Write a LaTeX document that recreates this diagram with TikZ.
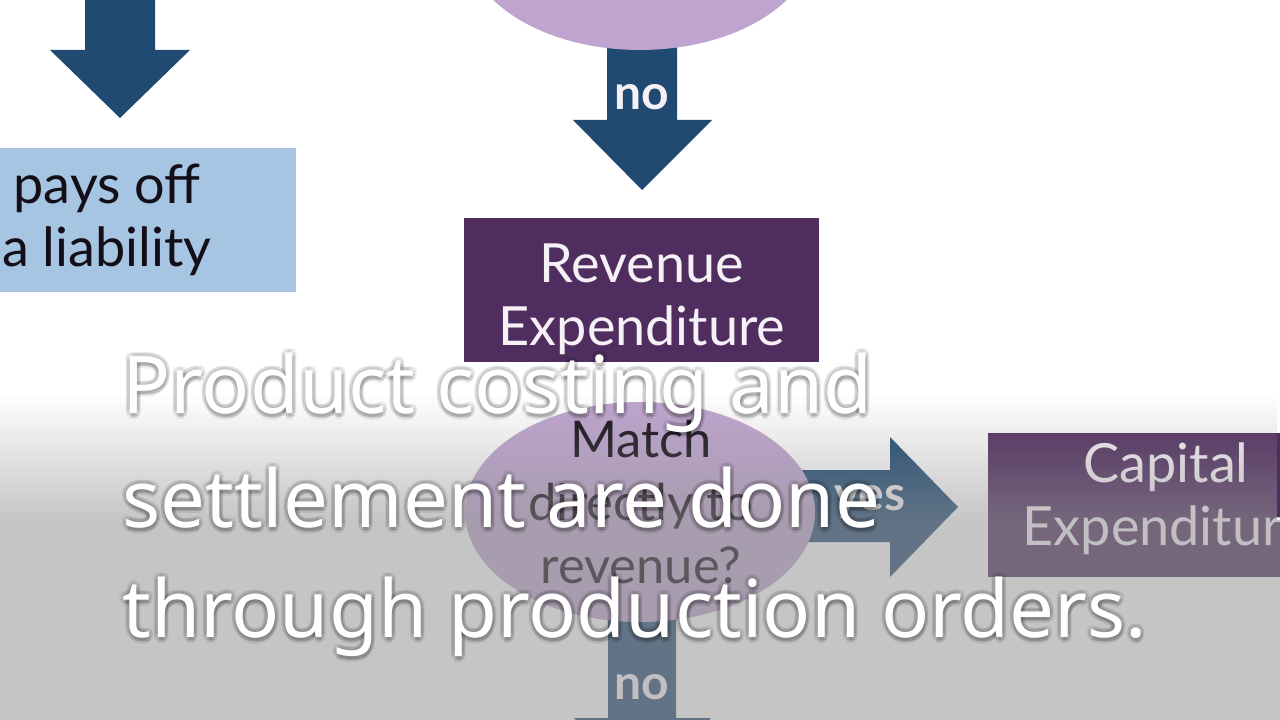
\documentclass[tikz,border=0pt]{standalone}
\usepackage{fontspec}
\setmainfont{Lato}
\newfontfamily\subfont{Noto Sans}
\usetikzlibrary{fadings,shapes.geometric}
\definecolor{arrowblue}{RGB}{33,74,114}
\definecolor{lightbox}{RGB}{166,197,226}
\definecolor{lilac}{RGB}{190,164,206}
\definecolor{darkpurple}{RGB}{79,45,94}
\definecolor{paletext}{RGB}{246,241,246}
\definecolor{darktext}{RGB}{20,14,24}
\definecolor{hazegrey}{RGB}{150,150,150}
\tikzfading[name=fadesouth, top color=transparent!100, bottom color=transparent!0]
\tikzset{
  arrowfill/.style={fill=arrowblue, draw=none},
  boxtext/.style={inner sep=0pt, align=center, font=\fontsize{40.5}{47}\selectfont},
  lightboxnode/.style={fill=lightbox, minimum width=282pt, minimum height=108pt, inner sep=0pt},
  purplebox/.style={fill=darkpurple, minimum width=266.25pt, minimum height=108pt, inner sep=0pt},
  decision/.style={ellipse, fill=lilac, minimum width=262.5pt, minimum height=165pt, inner sep=0pt},
  arrowlabel/.style={text=paletext, font=\bfseries\fontsize{36}{40}\selectfont, inner sep=0pt},
  subline/.style={anchor=base west, text=white, inner sep=0pt, font=\subfont\fontsize{59.8}{70}\selectfont},
  subshadow/.style={anchor=base west, text=black, text opacity=0.07, inner sep=0pt, font=\subfont\fontsize{59.8}{70}\selectfont}
}
\newcommand{\subtitleline}[3]{%
  \foreach \dx/\dy in {-4/0,4/0,0/-4,0/4,-3/-3,3/3,-3/3,3/-3,2/4,0/6} {
    \node[subshadow] at ([xshift=\dx*0.75pt,yshift=-\dy*0.75pt]#1) {#3};
  }
  \node[subline] (#2) at (#1) {#3};
}
\begin{document}
\begin{tikzpicture}[x=0.75pt,y=-0.75pt]
\useasboundingbox (0,0) rectangle (1280,720);
\fill[white] (0,0) rectangle (1280,720);
\clip (0,0) rectangle (1280,720);

% arrows (shapes)
\fill[arrowfill] (85,-5) -- (155,-5) -- (155,50) -- (190,50) -- (120,118) -- (50,50) -- (85,50) -- cycle;
\fill[arrowfill] (607,40) -- (677,40) -- (677,120) -- (712,120) -- (642,190) -- (573,120) -- (607,120) -- cycle;
\fill[arrowfill] (800,470) -- (890,470) -- (890,437) -- (958,507) -- (890,577) -- (890,542) -- (800,542) -- cycle;
\fill[arrowfill] (608,600) -- (676,600) -- (676,718) -- (711,718) -- (642,790) -- (574,718) -- (608,718) -- cycle;

% boxes and decisions
\node[lightboxnode] (liab) at (108,220) {};
\node[boxtext, text=darktext] (liabtext) at (107,220) {pays off\\a liability};
\node[decision] (topq) at (640,-60) {};
\node[purplebox] (rev) at (641.5,290) {};
\node[boxtext, text=paletext] (revtext) at (642,299) {Revenue\\Expenditure};
\node[decision] (match) at (640,512) {};
\node[boxtext, text=darktext, font=\fontsize{38}{47}\selectfont] (matchtext) at (641,502) {Match\\directly to\\revenue?};
\node[purplebox] (cap) at (1165.5,504.5) {};
\node[boxtext, text=paletext] (captext) at (1166,499) {Capital\\Expenditure};

\node[arrowlabel] (no1) at (642,97) {no};
\node[arrowlabel] (yes1) at (870,502) {yes};
\node[arrowlabel] (no2) at (642,687) {no};

% hazy overlay of the video frame
\fill[hazegrey, fill opacity=0.55, path fading=fadesouth] (0,395) rectangle (1280,520);
\fill[hazegrey, fill opacity=0.55] (0,519.5) rectangle (1280,720);

% subtitle
\coordinate (s1) at (122,413);
\coordinate (s2) at (122,527);
\coordinate (s3) at (122,637);
\subtitleline{s1}{sub1}{Product costing and}
\subtitleline{s2}{sub2}{settlement are done}
\subtitleline{s3}{sub3}{through production orders.}
\end{tikzpicture}
\end{document}
